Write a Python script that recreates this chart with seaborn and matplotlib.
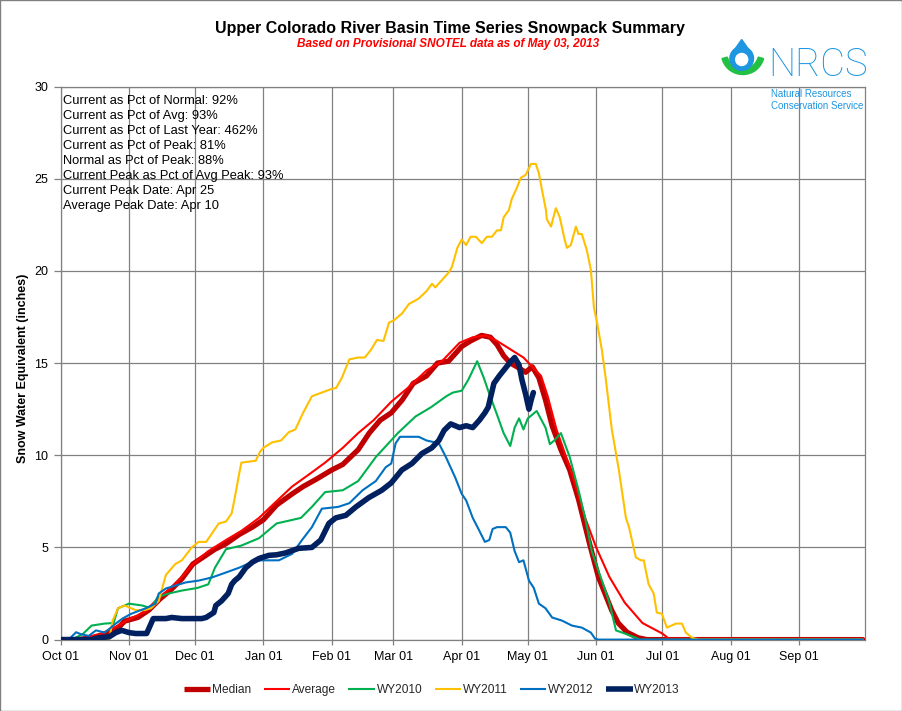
import numpy as np
import pandas as pd
import matplotlib
matplotlib.use("Agg")
import matplotlib.pyplot as plt
import seaborn as sns
from matplotlib import font_manager
from matplotlib.lines import Line2D
from matplotlib.patches import Wedge, Circle, Polygon, Rectangle

# ---------------- data (day of water year, Oct 01 = 0) ----------------
MONTH_TICKS = [0, 31, 61, 92, 123, 151, 182, 212, 243, 273, 304, 335]
MONTH_LABELS = ["Oct 01", "Nov 01", "Dec 01", "Jan 01", "Feb 01", "Mar 01",
                "Apr 01", "May 01", "Jun 01", "Jul 01", "Aug 01", "Sep 01"]

MEDIAN_DAY = [0, 8, 14, 20, 25, 29, 35, 40, 45, 50, 55, 60, 65, 70, 75, 81, 87, 92, 98, 105,
              110, 116, 123, 128, 135, 140, 145, 150, 155, 160, 166, 171, 176, 182, 186, 191,
              195, 198, 201, 204, 207, 211, 214, 217, 220, 223, 227, 231, 235, 240, 244, 247,
              250, 253, 257, 262, 266, 364]
MEDIAN_SWE = [0, 0, 0.1, 0.3, 0.5, 1.0, 1.2, 1.6, 2.2, 2.7, 3.3, 4.1, 4.5, 4.9, 5.2, 5.7, 6.1,
              6.5, 7.3, 7.9, 8.3, 8.7, 9.2, 9.5, 10.3, 11.2, 11.9, 12.3, 13.0, 13.9, 14.3, 15.0,
              15.1, 15.9, 16.2, 16.5, 16.4, 16.0, 15.4, 15.0, 14.8, 14.5, 14.8, 14.2, 13.0, 11.6,
              10.3, 9.2, 7.6, 5.2, 3.4, 2.5, 1.6, 0.9, 0.4, 0.1, 0, 0]

AVG_DAY = [0, 10, 18, 25, 31, 38, 45, 52, 60, 67, 75, 82, 90, 97, 105, 112, 120, 128, 135, 142,
           150, 158, 166, 173, 181, 187, 193, 198, 202, 206, 210, 214, 218, 221, 225, 232, 238,
           243, 249, 256, 264, 273, 276, 364]
AVG_SWE = [0, 0.05, 0.3, 0.7, 1.1, 1.5, 2.3, 3.0, 4.1, 4.8, 5.4, 5.9, 6.6, 7.4, 8.3, 8.9, 9.6,
           10.4, 11.2, 11.9, 12.9, 13.7, 14.6, 15.1, 16.1, 16.4, 16.5, 16.2, 15.9, 15.6, 15.3,
           14.8, 14.3, 13.2, 11.4, 9.0, 6.6, 5.0, 3.4, 2.0, 0.9, 0.33, 0.05, 0]

WY2010_DAY = [0, 5, 10, 14, 20, 24, 26, 31, 37, 41, 44, 49, 55, 62, 67, 70, 75, 82, 90, 95, 98,
              109, 114, 120, 128, 135, 143, 153, 161, 168, 175, 178, 182, 185, 189, 192, 194,
              198, 201, 204, 206, 208, 210, 212, 216, 220, 222, 224, 227, 231, 235, 238, 241,
              244, 249, 252, 256, 261, 263, 364]
WY2010_SWE = [0, 0, 0.3, 0.76, 0.87, 0.9, 1.7, 1.95, 1.85, 1.7, 2.3, 2.5, 2.66, 2.8, 3.0, 3.9,
              4.9, 5.1, 5.5, 6.0, 6.3, 6.6, 7.2, 8.0, 8.1, 8.6, 9.9, 11.2, 12.1, 12.6, 13.2, 13.4,
              13.5, 14.1, 15.1, 14.2, 13.5, 12.2, 11.2, 10.5, 11.5, 12.0, 11.4, 12.0, 12.4, 11.5,
              10.6, 10.8, 11.2, 9.9, 8.1, 6.6, 4.8, 3.75, 2.0, 0.5, 0.33, 0.1, 0, 0]

WY2011_DAY = [0, 22, 23.5, 26, 29, 34, 38, 41, 44.5, 47.7,
              52, 55, 59.5, 62.6, 66, 68.6, 71.7, 75, 77.6, 79,
              81, 82, 88.5, 90.5, 92, 96, 100, 103.5, 106.5, 110,
              114, 118.5, 123, 125, 127.6, 131, 135, 138, 140.7, 143.5,
              146.5, 149, 151, 155, 158, 162.5, 166, 168.5, 170, 173,
              176, 177.5, 180, 182, 184, 186, 188.4, 191.1, 193.4, 195.7,
              198, 199.8, 201, 203.4, 204.7, 207, 208.8, 211, 213.4, 215.6,
              217, 218.4, 220.2, 220.6, 222.5, 224.7, 226.5, 228.4, 229.7, 231.5,
              233.8, 235, 236.5, 238.8, 240.6, 242, 243.4, 245.6, 247.4, 250.1,
              253.3, 256.5, 257.9, 261, 263.3, 264.6, 266.8, 269.1, 270.5, 272.8,
              275.1, 279.2, 281.9, 283.7, 286.5, 289.6, 364]
WY2011_SWE = [0, 0, 1.0, 1.7, 1.85, 1.6, 1.6, 1.7, 2.1, 3.5,
              4.1, 4.3, 5.0, 5.3, 5.3, 5.75, 6.3, 6.4, 6.85, 7.7,
              9.0, 9.6, 9.7, 10.2, 10.4, 10.7, 10.8, 11.25, 11.4, 12.3,
              13.2, 13.4, 13.6, 13.65, 14.2, 15.2, 15.3, 15.3, 15.7, 16.25,
              16.2, 17.2, 17.3, 17.7, 18.2, 18.5, 18.9, 19.3, 19.1, 19.5,
              19.9, 20.2, 21.25, 21.7, 21.4, 21.85, 21.85, 21.5, 21.85, 21.85,
              22.2, 22.2, 22.9, 23.3, 23.9, 24.5, 25.05, 25.2, 25.8, 25.8,
              25.3, 24.4, 23.3, 22.8, 22.4, 23.4, 22.9, 21.85, 21.25, 21.4,
              22.4, 22.0, 22.0, 21.1, 20.05, 18.0, 17.2, 15.7, 14.1, 11.4,
              9.2, 6.6, 6.1, 4.46, 4.3, 4.3, 3.0, 2.5, 1.47, 1.4,
              0.65, 0.87, 0.87, 0.38, 0.1, 0, 0]

WY2012_DAY = [0, 4, 7, 9, 12.7, 16, 20, 25, 28, 32,
              38.6, 43, 44.5, 47.7, 52, 56.7, 62.6, 68.6, 75, 81,
              86.7, 91, 99, 105, 109.5, 114, 118.5, 126, 131, 137,
              143, 147.5, 150, 152, 154, 162.5, 166, 171.6, 174.8, 179,
              182, 184, 187, 190, 192.5, 194.5, 196, 198, 202, 204,
              206, 208, 210, 212.5, 214.7, 217, 220, 223, 227.5, 232,
              236.5, 240.6, 242.5, 244, 364]
WY2012_SWE = [0, 0.05, 0.4, 0.3, 0.2, 0.5, 0.38, 0.87, 1.14, 1.4,
              1.7, 1.95, 2.5, 2.77, 2.93, 3.1, 3.2, 3.37, 3.64, 3.9,
              4.2, 4.3, 4.3, 4.65, 5.4, 6.1, 7.1, 7.2, 7.4, 8.1,
              8.6, 9.35, 9.55, 10.65, 11.0, 11.0, 10.8, 10.65, 9.9, 8.8,
              7.9, 7.55, 6.6, 5.9, 5.3, 5.4, 6.0, 6.1, 6.1, 5.8,
              4.8, 4.2, 4.3, 3.2, 2.8, 1.95, 1.7, 1.2, 1.03, 0.76,
              0.65, 0.38, 0.05, 0, 0]

WY2013_DAY = [0, 14, 17, 22, 25, 27.7, 31, 34, 39, 41,
              42, 47.7, 50.4, 55, 64, 66, 69.5, 70.4, 73, 76,
              77.6, 79, 81, 84, 87, 90, 94.5, 98, 102, 108,
              114, 118, 121.7, 124.8, 129.4, 134, 139.8, 145.7, 150, 154.8,
              159.4, 164, 168.4, 171.6, 174, 177, 181, 184, 187, 190,
              192.5, 194, 196.6, 199, 202, 204, 206, 208, 209.3, 211,
              212.5, 213.5, 214.5]
WY2013_SWE = [0, 0, 0.1, 0.15, 0.38, 0.5, 0.38, 0.33, 0.33, 0.87,
              1.14, 1.14, 1.2, 1.14, 1.14, 1.2, 1.47, 1.85, 2.1, 2.5,
              3.0, 3.2, 3.4, 3.9, 4.2, 4.4, 4.57, 4.6, 4.7, 4.95,
              5.0, 5.4, 6.3, 6.6, 6.74, 7.2, 7.7, 8.1, 8.5, 9.2,
              9.55, 10.1, 10.4, 10.8, 11.35, 11.7, 11.5, 11.6, 11.5, 11.9,
              12.3, 12.6, 13.9, 14.3, 14.75, 15.05, 15.3, 14.9, 14.1, 13.3,
              12.5, 13.0, 13.4]

STATS_LINES = ["Current as Pct of Normal: 92%",
               "Current as Pct of Avg: 93%",
               "Current as Pct of Last Year: 462%",
               "Current as Pct of Peak: 81%",
               "Normal as Pct of Peak: 88%",
               "Current Peak as Pct of Avg Peak: 93%",
               "Current Peak Date: Apr 25",
               "Average Peak Date: Apr 10"]

TITLE = "Upper Colorado River Basin Time Series Snowpack Summary"
SUBTITLE = "Based on Provisional SNOTEL data as of May 03, 2013"

# ---------------- style ----------------
sns.set_theme(style="white")
plt.rcParams["font.family"] = ["Liberation Sans", "DejaVu Sans"]
names = {f.name for f in font_manager.fontManager.ttflist}
LOGO_FONT = "Roboto" if "Roboto" in names else "Liberation Sans"

W, H = 902, 711
fig = plt.figure(figsize=(W / 100, H / 100), dpi=100)
fig.patch.set_facecolor("white")

L, R, T, B = 60.7, 865.0, 86.5, 639.6
ax = fig.add_axes([L / W, 1 - B / H, (R - L) / W, (B - T) / H])
ax.set_facecolor("white")

series = [
    ("Median", MEDIAN_DAY, MEDIAN_SWE, "#C00000", 3.8),
    ("Average", AVG_DAY, AVG_SWE, "#FF0000", 1.5),
    ("WY2010", WY2010_DAY, WY2010_SWE, "#00B050", 1.5),
    ("WY2011", WY2011_DAY, WY2011_SWE, "#FFC000", 1.5),
    ("WY2012", WY2012_DAY, WY2012_SWE, "#0070C0", 1.5),
    ("WY2013", WY2013_DAY, WY2013_SWE, "#002060", 4.0),
]

handles = []
for i, (name, d, v, col, lw) in enumerate(series):
    df = pd.DataFrame({"day": d, "swe": v})
    sns.lineplot(data=df, x="day", y="swe", ax=ax, color=col, linewidth=lw,
                 estimator=None, sort=False, legend=False, zorder=3 + i,
                 solid_joinstyle="round", solid_capstyle="round")
    handles.append(Line2D([0], [0], color=col, linewidth=lw, solid_capstyle="butt"))

ax.set_xlim(0, 365)
ax.set_ylim(0, 30)
ax.set_xticks(MONTH_TICKS)
ax.set_xticklabels(MONTH_LABELS)
ax.set_yticks(range(0, 31, 5))
ax.grid(True, color="#808080", linewidth=0.9)
ax.set_axisbelow(True)
for s in ax.spines.values():
    s.set_color("#808080")
    s.set_linewidth(0.9)
ax.tick_params(axis="both", colors="#808080", labelcolor="black", labelsize=9,
               direction="out", width=0.9)
ax.tick_params(axis="y", length=5, pad=4, left=True)
ax.tick_params(axis="x", length=3.5, pad=5, bottom=True)
ax.set_xlabel("")
ax.set_ylabel("Snow Water Equivalent (inches)", fontsize=9, fontweight="bold", color="black")
ax.yaxis.set_label_coords(-0.040, 0.49)

# stats block
for i, line in enumerate(STATS_LINES):
    fig.text(63 / W, 1 - (101 + 14.95 * i) / H, line, fontsize=9.3, ha="left",
             va="center", color="black", zorder=20)

# titles
fig.text(449.5 / W, 1 - 29 / H, TITLE, fontsize=11.5, fontweight="bold", ha="center",
         va="center", color="black")
fig.text(448 / W, 1 - 43.5 / H, SUBTITLE, fontsize=8.45, fontweight="bold",
         fontstyle="italic", ha="center", va="center", color="#FF0000")

# legend
fig.legend(handles, [s[0] for s in series], loc="center",
           bbox_to_anchor=(432 / W, 1 - 690 / H), ncol=6, frameon=False, fontsize=8.6,
           handlelength=2.2, handletextpad=0.15, columnspacing=1.05)

# logo overlay
lax = fig.add_axes([0, 0, 1, 1], zorder=10)
lax.set_xlim(0, W)
lax.set_ylim(H, 0)
lax.axis("off")
blue = "#1E96E0"
lax.add_patch(Wedge((742.8, 53), 21.5, 15, 165, width=5.5, color="#22C043"))
lax.add_patch(Polygon([(730.8, 55), (752.6, 55), (741.7, 39.5)], closed=True, color=blue))
lax.add_patch(Circle((741.7, 58.5), 11.8, color=blue))
lax.add_patch(Circle((741.7, 59.5), 6.0, color="white"))
lax.text(768.5, 76, "NRCS", fontsize=27.5, family=LOGO_FONT, fontweight="light", color=blue,
         ha="left", va="baseline")
lax.text(771, 94, "Natural Resources", fontsize=7, family="Liberation Sans", color=blue,
         ha="left", va="center")
lax.text(771, 106, "Conservation Service", fontsize=7, family="Liberation Sans", color=blue,
         ha="left", va="center")

# outer border
fig.add_artist(Rectangle((0.0005, 0.0007), 0.999, 0.9986, transform=fig.transFigure,
                         fill=False, edgecolor="#808080", linewidth=1.0))

fig.savefig("out.png", dpi=100, facecolor="white")
